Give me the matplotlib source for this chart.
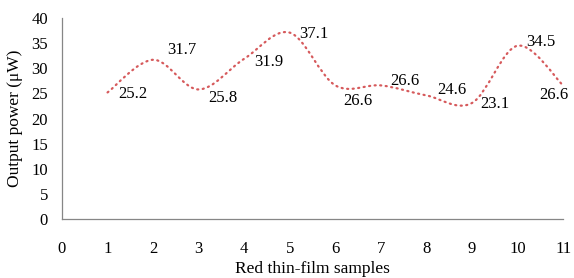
import matplotlib
matplotlib.use("Agg")
import matplotlib.pyplot as plt
from matplotlib.path import Path
from matplotlib.patches import PathPatch

plt.rcParams['font.family'] = ['Liberation Serif', 'DejaVu Serif']

samples = [1, 2, 3, 4, 5, 6, 7, 8, 9, 10, 11]
power = [25.2, 31.7, 25.8, 31.9, 37.1, 26.6, 26.6, 24.6, 23.1, 34.5, 26.6]
x_ticks = list(range(0, 12))
y_ticks = list(range(0, 45, 5))

# label offsets in points (style only)
label_offsets = [(8, -1), (10, 7), (7, -6), (7, -2), (7, -1), (6, -11),
                 (7, 3), (8, 4), (6, -1), (6, 3), (-17, -7)]


# Excel-like smoothed line: Catmull-Rom turned into cubic Bezier segments
def smooth_path(xs, ys):
    verts = [(xs[0], ys[0])]
    codes = [Path.MOVETO]
    n = len(xs)
    for i in range(n - 1):
        x0, y0 = (xs[i - 1], ys[i - 1]) if i > 0 else (xs[i], ys[i])
        x1, y1 = xs[i], ys[i]
        x2, y2 = xs[i + 1], ys[i + 1]
        x3, y3 = (xs[i + 2], ys[i + 2]) if i + 2 < n else (x2, y2)
        c1 = (x1 + (x2 - x0) / 6, y1 + (y2 - y0) / 6)
        c2 = (x2 - (x3 - x1) / 6, y2 - (y3 - y1) / 6)
        verts += [c1, c2, (x2, y2)]
        codes += [Path.CURVE4] * 3
    return Path(verts, codes)


fig = plt.figure(figsize=(5.74, 2.78), dpi=100)
ax = fig.add_axes([0.108, 0.212, 0.873, 0.723])

ax.add_patch(PathPatch(smooth_path(samples, power), fill=False,
                       edgecolor="#D65A5C", linewidth=1.6,
                       linestyle=(0, (0.5, 2.0)), capstyle="round"))

for x, y, (dx, dy) in zip(samples, power, label_offsets):
    ax.annotate(f"{y:.1f}", (x, y), xytext=(dx, dy), textcoords="offset points",
                ha="left", va="center", fontsize=12, color="black")

ax.set_xlim(0, 11)
ax.set_ylim(0, 40)
ax.set_xticks(x_ticks)
ax.set_yticks(y_ticks)
ax.tick_params(length=0, labelsize=12, colors="black")
ax.tick_params(axis="x", pad=16)
ax.tick_params(axis="y", pad=10)

for side in ["top", "right"]:
    ax.spines[side].set_visible(False)
for side in ["left", "bottom"]:
    ax.spines[side].set_color("#868686")
    ax.spines[side].set_linewidth(0.9)

ax.set_xlabel("Red thin-film samples", fontsize=12.5, labelpad=3)
ax.set_ylabel("Output power (μW)", fontsize=12.5, labelpad=6)

fig.savefig("out.png", dpi=100)
